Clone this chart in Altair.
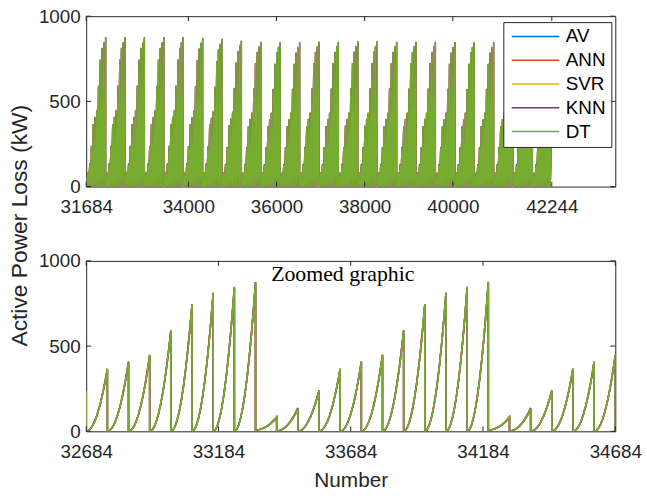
import altair as alt
import pandas as pd

MODELS = ["AV", "ANN", "SVR", "KNN", "DT"]
COLORS = ["#0072BD", "#D95319", "#EDB120", "#7E2F8E", "#77AC30"]

# peaks (kW) of the 11 teeth of one daily cluster
TOOTH_PEAKS = [81, 130, 236, 366, 407, 444, 589, 742, 810, 844, 873]
# value at which each tooth starts rising
TOOTH_START = [8, 2, 0, 0, 0, 0, 0, 0, 0, 0, 0]
# rise of one tooth (fraction of its peak) at evenly spaced steps
TOOTH_SHAPE = [0.0, 0.01, 0.04, 0.09, 0.16, 0.25, 0.36, 0.49, 0.64, 0.81, 1.0]
# per-model deviation (kW) of each tooth peak from DT
OFFSETS = {
    "AV":  [0, 0, 0, 0, 0, 0, 0, 3, 4, 4, 3],
    "ANN": [6, -3, 2, 0, 3, 6, 4, 2, 0, 0, 0],
    "SVR": [2, 0, 0, 0, 0, 6, 0, 0, 0, 0, 0],
    "KNN": [-2, 7, 3, 0, -2, 0, 2, 0, 0, -3, 0],
    "DT":  [0, 0, 0, 0, 0, 0, 0, 0, 0, 0, 0],
}
# highest peak of each of the 24 clusters in the upper panel
CLUSTER_MAX = [874, 874, 874, 874, 874, 870, 864, 854, 849, 845, 845, 849,
               849, 850, 850, 849, 849, 849, 845, 845, 845, 845, 845, 845]

TOP_TICKS = [31684, 34000, 36000, 38000, 40000, 42244]
TOP_DOMAIN = [31684, 43684]
TOP_START, TOP_TOOTH = 31684, 40
BOT_TICKS = [32684, 33184, 33684, 34184, 34684]
BOT_DOMAIN = [32684, 34684]
BOT_START, BOT_TOOTH = 32444, 80
BOT_CLUSTER_MAX = [873, 874, 874]
Y_TICKS = [0, 500, 1000]


def build(x_start, tooth_w, cmax):
    rows = []
    n = len(TOOTH_SHAPE) - 1
    for m in MODELS:
        seq = 0
        for c, cm in enumerate(cmax):
            s = cm / TOOTH_PEAKS[-1]
            for k in range(len(TOOTH_PEAKS)):
                x0 = x_start + (c * len(TOOTH_PEAKS) + k) * tooth_w
                peak = (TOOTH_PEAKS[k] + OFFSETS[m][k]) * s
                st = TOOTH_START[k]
                for j, f in enumerate(TOOTH_SHAPE):
                    rows.append({"model": m, "x": x0 + tooth_w * j / n,
                                 "y": st + (peak - st) * f, "seq": seq})
                    seq += 1
    return pd.DataFrame(rows)


top_df = build(TOP_START, TOP_TOOTH, CLUSTER_MAX)
bot_df = build(BOT_START, BOT_TOOTH, BOT_CLUSTER_MAX)

W, H = 534, 172
FONT = "Liberation Sans"


def panel(df, xdom, xticks, sw, xtitle, ytitle, legend):
    xaxis = alt.Axis(values=xticks, format="d", labelFlush=False, labelOverlap=False,
                     labelPadding=11, title=xtitle, titlePadding=9, titleFontSize=21)
    if ytitle:
        yaxis = alt.Axis(values=Y_TICKS, format="d", labelPadding=6, title=ytitle,
                         titleX=-67, titleY=211, titleBaseline="middle", titleAngle=-90,
                         titleFontSize=23)
    else:
        yaxis = alt.Axis(values=Y_TICKS, format="d", labelPadding=6, title=None)
    X = alt.X("x:Q", scale=alt.Scale(domain=xdom, nice=False, zero=False), axis=xaxis)
    Y = alt.Y("y:Q", scale=alt.Scale(domain=[0, 1000], nice=False), axis=yaxis)
    C = alt.Color("model:N", scale=alt.Scale(domain=MODELS, range=COLORS), legend=legend)
    layers = []
    for m in MODELS:
        layers.append(
            alt.Chart(df).transform_filter(alt.datum.model == m)
            .mark_line(clip=True, strokeWidth=sw)
            .encode(x=X, y=Y, color=C, order="seq:Q")
        )
    xt = pd.DataFrame({"x": xticks})
    yt = pd.DataFrame({"y": Y_TICKS})
    tk = {"color": "#262626", "strokeWidth": 1}
    layers.append(alt.Chart(xt).mark_rule(**tk).encode(x=X, y=alt.value(H), y2=alt.value(H - 5)))
    layers.append(alt.Chart(xt).mark_rule(**tk).encode(x=X, y=alt.value(0), y2=alt.value(5)))
    layers.append(alt.Chart(yt).mark_rule(**tk).encode(y=Y, x=alt.value(0), x2=alt.value(5)))
    layers.append(alt.Chart(yt).mark_rule(**tk).encode(y=Y, x=alt.value(W), x2=alt.value(W - 5)))
    return alt.layer(*layers).properties(width=W, height=H)


legend = alt.Legend(
    title=None, orient="none", legendX=421, legendY=6,
    symbolType="M-1,0H7", symbolSize=144, symbolStrokeWidth=1.5,
    labelFontSize=19, labelFont=FONT, labelColor="#000000", labelOffset=39,
    fillColor="#ffffff", strokeColor="#262626", padding=5, rowPadding=4,
)

top = panel(top_df, TOP_DOMAIN, TOP_TICKS, 1.3, None, "Active Power Loss (kW)", legend)

ANNOT_X = [33654]
ANNOT_Y = [880]
ann = pd.DataFrame({"x": ANNOT_X, "y": ANNOT_Y, "t": ["Zoomed graphic"]})
bot = panel(bot_df, BOT_DOMAIN, BOT_TICKS, 1.6, "Number", None, None)
bot_text = alt.Chart(ann).mark_text(font="Liberation Serif", fontSize=22, color="#000000",
                                    baseline="alphabetic", align="center").encode(
    x=alt.X("x:Q", scale=alt.Scale(domain=BOT_DOMAIN, nice=False, zero=False)),
    y=alt.Y("y:Q", scale=alt.Scale(domain=[0, 1000], nice=False)),
    text="t:N")
bot = alt.layer(bot, bot_text)

chart = alt.vconcat(top, bot, spacing=75, bounds="flush").resolve_scale(
    color="independent").resolve_legend(color="independent").properties(
    padding={"left": 8, "top": 4, "right": 5, "bottom": 5}
).configure_view(stroke="#262626", strokeWidth=1).configure_axis(
    domain=False, ticks=False, grid=False, labelFont=FONT, labelFontSize=19,
    labelColor="#262626", titleFont=FONT, titleColor="#262626",
    titleFontWeight="normal")

chart.save("out.html", embed_options={"renderer": "svg", "actions": False})
